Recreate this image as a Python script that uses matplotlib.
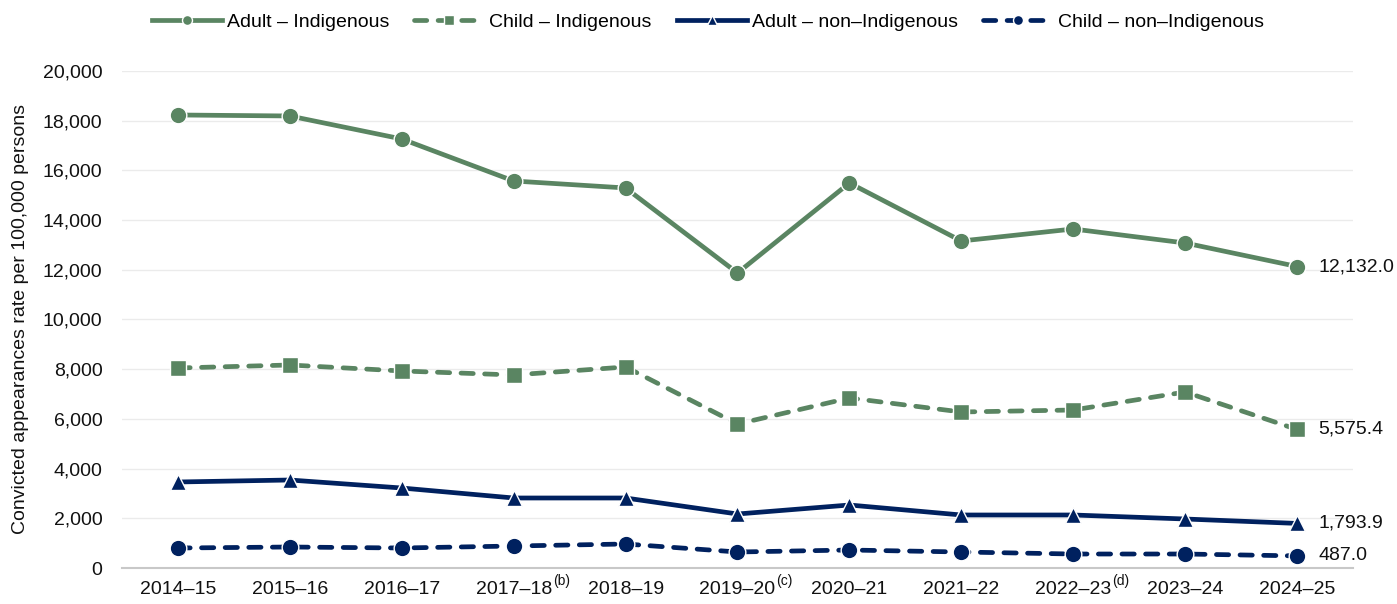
import matplotlib.pyplot as plt
from matplotlib.ticker import FuncFormatter

plt.rcParams['font.family'] = ['Liberation Sans', 'DejaVu Sans']

years = ['2014–15', '2015–16', '2016–17', '2017–18', '2018–19', '2019–20',
         '2020–21', '2021–22', '2022–23', '2023–24', '2024–25']
notes = ['', '', '', '(b)', '', '(c)', '', '', '(d)', '', '']

adult_indig = [18229, 18189, 17264, 15573, 15292, 11871, 15493, 13159, 13642, 13078, 12132.0]
child_indig = [8048, 8169, 7928, 7767, 8089, 5795, 6841, 6278, 6358, 7082, 5575.4]
adult_non = [3461, 3541, 3219, 2817, 2817, 2173, 2535, 2133, 2133, 1972, 1793.9]
child_non = [805, 845, 805, 885, 966, 644, 724, 644, 563, 563, 487.0]

green = '#5A8562'
navy = '#00215F'

fig = plt.figure(figsize=(13.97, 6.04), dpi=100)
ax = fig.add_axes([0.0873, 0.0596, 0.8812, 0.8229])
x = list(range(len(years)))

dashed = (0, (2.6, 2.4))
series = [
    (adult_indig, 'Adult – Indigenous', green, '-', 'o', 12),
    (child_indig, 'Child – Indigenous', green, dashed, 's', 11),
    (adult_non, 'Adult – non–Indigenous', navy, '-', '^', 12),
    (child_non, 'Child – non–Indigenous', navy, dashed, 'o', 12),
]
for vals, name, col, ls, mk, ms in series:
    ax.plot(x, vals, color=col, linestyle=ls, linewidth=3.4, marker=mk,
            markersize=ms, markeredgecolor='white', markeredgewidth=1.0,
            dash_capstyle='round', label=name, zorder=3)
    ax.text(x[-1] + 0.19, vals[-1], f'{vals[-1]:,.1f}', va='center', ha='left',
            fontsize=14, color='#111111')

ax.set_xlim(-0.5, 10.5)
ax.set_ylim(0, 20000)
ax.set_yticks(range(0, 20001, 2000))
ax.yaxis.set_major_formatter(FuncFormatter(lambda v, p: f'{int(v):,}'))
ax.set_xticks(x)
ax.set_xticklabels(years)
ax.tick_params(axis='both', length=0, labelsize=14, colors='#111111')
ax.tick_params(axis='x', pad=9)
ax.tick_params(axis='y', pad=14)

# footnote markers sit raised just after the year label
for i, n in enumerate(notes):
    if n:
        ax.annotate(n, xy=(i, 0), xycoords=('data', 'axes fraction'),
                    xytext=(39, -6), textcoords='offset pixels',
                    ha='left', va='top', fontsize=10, color='#111111')

ax.grid(axis='y', color='#EBEBEB', linewidth=1)
ax.set_axisbelow(True)
for s in ['top', 'right', 'left']:
    ax.spines[s].set_visible(False)
ax.spines['bottom'].set_color('#C8C8C8')
ax.spines['bottom'].set_linewidth(1.5)
ax.set_ylabel('Convicted appearances rate per 100,000 persons', fontsize=14,
              color='#111111', labelpad=10)

ax.legend(loc='lower center', bbox_to_anchor=(0.476, 1.045), ncol=4, frameon=False,
          fontsize=14, handlelength=3.6, columnspacing=1.3, handletextpad=0.25,
          markerscale=0.6)

fig.savefig('out.png', dpi=100)
